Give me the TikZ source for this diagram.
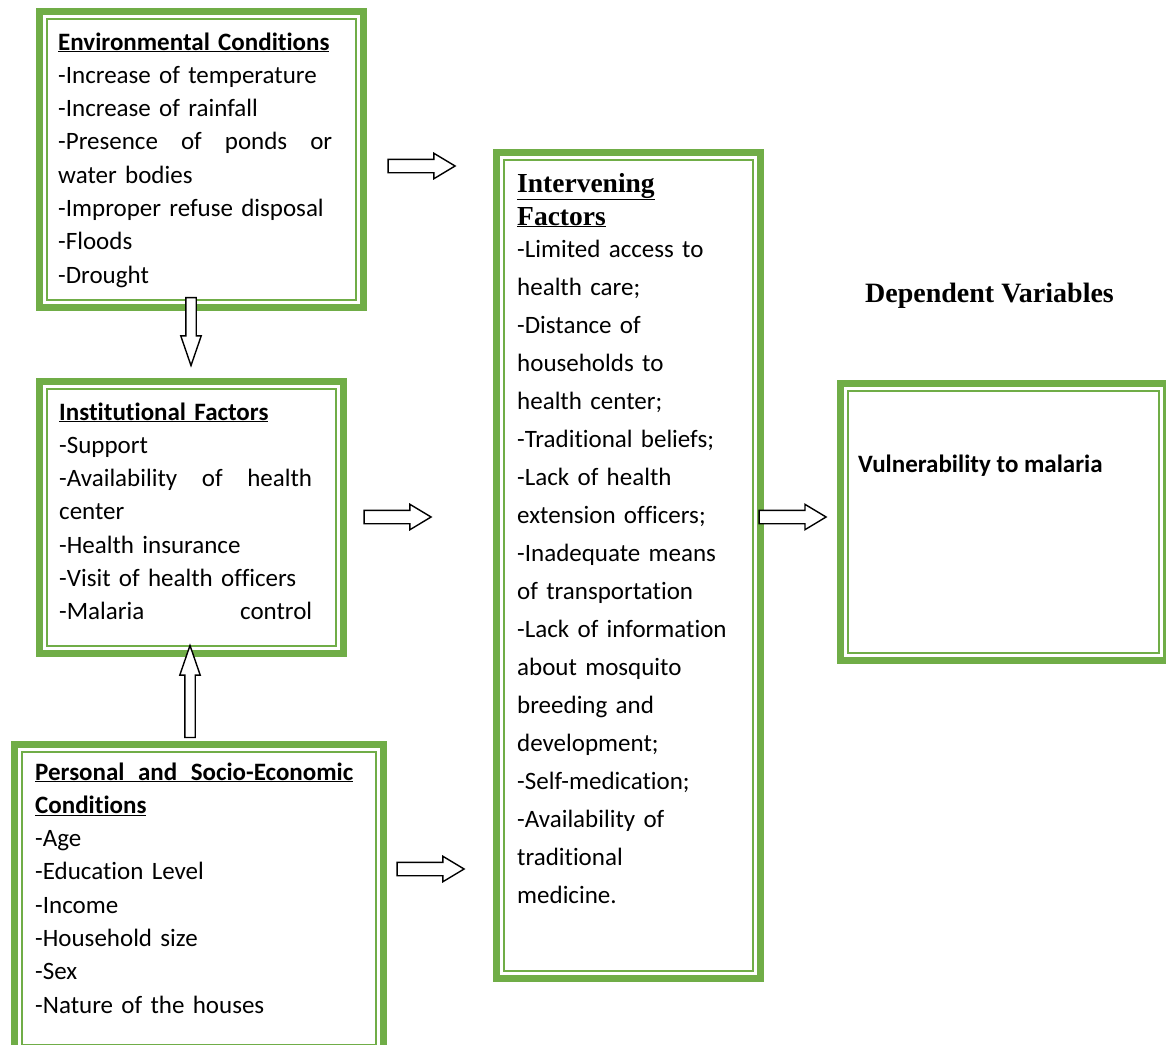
\documentclass[tikz,border=0pt]{standalone}
\usepackage{fontspec}
\setmainfont{Carlito}[Ligatures=NoCommon]
\newfontfamily\hdfont{Liberation Serif}
\usetikzlibrary{shapes.arrows}

\definecolor{boxgreen}{RGB}{112,173,71}

\tikzset{
  gbox/.style={draw=boxgreen, line width=7pt, anchor=north west,
    path picture={\draw[boxgreen, line width=2pt]
      ([shift={(7.5pt,-7.5pt)}]path picture bounding box.north west) rectangle
      ([shift={(-7.5pt,7.5pt)}]path picture bounding box.south east);}},
  boxtext/.style={anchor=base west, inner sep=0pt, align=left,
    font=\fontsize{25pt}{33.3pt}\selectfont},
  barrow/.style={single arrow, draw=black, fill=white, line width=1.4pt,
    inner xsep=0pt, inner ysep=6pt, minimum height=67pt,
    single arrow head extend=6pt, single arrow tip angle=62},
  varrow/.style={barrow, inner ysep=4.5pt, single arrow head extend=5pt,
    single arrow tip angle=38}
}

\newcommand{\jline}[1]{\makebox[\linewidth][s]{\spaceskip=0pt\xspaceskip=0pt #1}}

\begin{document}
\begin{tikzpicture}[x=1pt,y=-1pt]
  % \helpgrid{1166}{1044}
  \useasboundingbox (0,0) rectangle (1166,1044);

  % boxes
  \node[gbox, minimum width=324pt, minimum height=296pt] (env) at (36,8) {};
  \node[gbox, minimum width=304pt, minimum height=272pt] (inst) at (36,378) {};
  \node[gbox, minimum width=369pt, minimum height=308pt] (pers) at (11,741) {};
  \node[gbox, minimum width=264pt, minimum height=826pt] (int) at (493,149) {};
  \node[gbox, minimum width=326pt, minimum height=277pt] (dep) at (837,380) {};

  % texts
  \node[boxtext, text width=274pt] (envtxt) at (58,50) {%
    \underline{\textbf{Environmental Conditions}}\\
    -Increase of temperature\\
    -Increase of rainfall\\
    \jline{-Presence of ponds or}\\
    water bodies\\
    -Improper refuse disposal\\
    -Floods\\
    -Drought};

  \node[boxtext, text width=253pt] (insttxt) at (59,420) {%
    \underline{\textbf{Institutional Factors}}\\
    -Support\\
    \jline{-Availability of health}\\
    center\\
    -Health insurance\\
    -Visit of health officers\\
    \jline{-Malaria control}};

  \node[boxtext, text width=318pt] (perstxt) at (35,780) {%
    \underline{\jline{\textbf{Personal and Socio-Economic}}}\\
    \underline{\textbf{Conditions}}\\
    -Age\\
    -Education Level\\
    -Income\\
    -Household size\\
    -Sex\\
    -Nature of the houses};

  \node[boxtext, text width=230pt, font=\fontsize{25pt}{38pt}\selectfont] (inttxt) at (517,192) {%
    {\hdfont\bfseries\fontsize{27.5pt}{33pt}\selectfont\underline{Intervening}}\\[-5pt]
    {\hdfont\bfseries\fontsize{27.5pt}{33pt}\selectfont\underline{Factors}}\\[-6pt]
    -Limited access to\\
    health care;\\
    -Distance of\\
    households to\\
    health center;\\
    -Traditional beliefs;\\
    -Lack of health\\
    extension officers;\\
    -Inadequate means\\
    of transportation\\
    -Lack of information\\
    about mosquito\\
    breeding and\\
    development;\\
    -Self-medication;\\
    -Availability of\\
    traditional\\
    medicine.};

  \node[anchor=base west, inner sep=0pt, font=\hdfont\bfseries\fontsize{28pt}{33pt}\selectfont] (deptitle) at (865,302) {Dependent Variables};
  \node[anchor=base west, inner sep=0pt, font=\bfseries\fontsize{25pt}{33pt}\selectfont] (deptxt) at (858,472) {Vulnerability to malaria};

  % arrows
  \node[barrow] (a1) at (416,166) {};
  \node[barrow] (a2) at (392,517) {};
  \node[barrow] (a3) at (425,869) {};
  \node[barrow] (a4) at (787,517) {};
  \node[varrow, rotate=-90, minimum height=68pt] (a5) at (191,324) {};
  \node[varrow, rotate=90, minimum height=92pt] (a6) at (190,699) {};

\end{tikzpicture}
\end{document}
